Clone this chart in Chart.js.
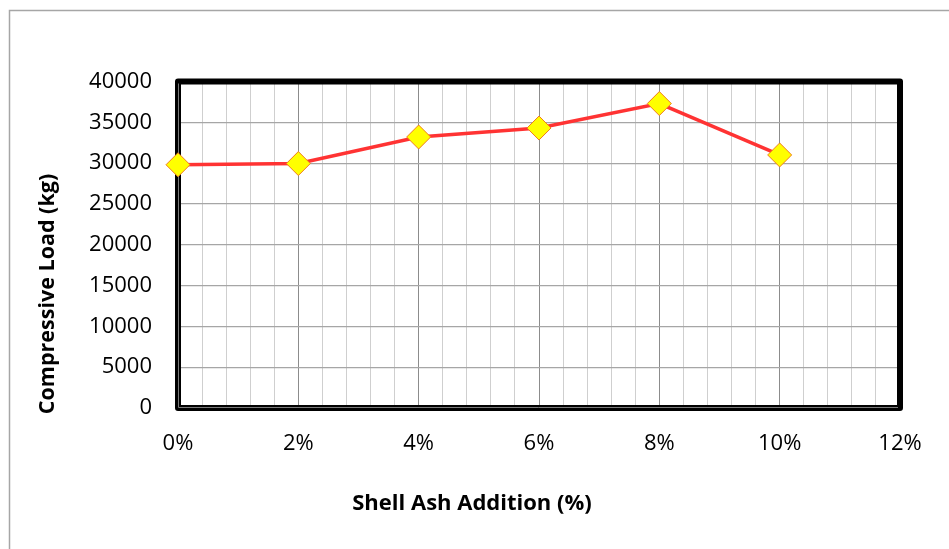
<!DOCTYPE html>
<html>
<head>
<meta charset="utf-8">
<script src="https://cdn.jsdelivr.net/npm/chart.js@4/dist/chart.umd.min.js"></script>
<style>
  html, body { margin: 0; padding: 0; background: #ffffff; }
  #wrap { width: 949px; height: 549px; position: relative; }
</style>
</head>
<body>
<div id="wrap"><canvas id="chart" width="949" height="549"></canvas></div>
<script>
// Shell ash addition (%) and the measured compressive load (kg)
const ashAddition = [0, 2, 4, 6, 8, 10];
const compressiveLoad = [29800, 29950, 33200, 34300, 37300, 31000];

// Axis settings
const xRange = [0, 12];
const xMajorStep = 2;
const xMinorStep = 0.4;
const yRange = [0, 40000];
const yStep = 5000;

const xTitle = 'Shell Ash Addition (%)';
const yTitle = 'Compressive Load (kg)';

const FONT = "'Open Sans', 'Noto Sans', sans-serif";

function isMajor(v) {
  const r = v / xMajorStep;
  return Math.abs(r - Math.round(r)) < 1e-6;
}

// Outer frame, heavy plot border and axis titles
const decorations = {
  id: 'decorations',
  beforeDraw(chart) {
    const ctx = chart.ctx;
    ctx.save();
    ctx.fillStyle = '#ffffff';
    ctx.fillRect(0, 0, chart.width, chart.height);
    ctx.strokeStyle = '#a6a6a6';
    ctx.lineWidth = 1.5;
    ctx.strokeRect(9.5, 10.5, chart.width + 20, chart.height + 20);
    ctx.restore();
  },
  beforeDatasetsDraw(chart) {
    const { ctx, chartArea: a } = chart;
    ctx.save();
    ctx.strokeStyle = '#000000';
    ctx.lineWidth = 6;
    ctx.lineJoin = 'round';
    ctx.strokeRect(a.left, a.top, a.right - a.left, a.bottom - a.top);
    // inner rule along the value and category axes
    ctx.strokeStyle = '#7a7a7a';
    ctx.lineWidth = 1;
    ctx.beginPath();
    ctx.moveTo(a.left + 0.5, a.top + 2);
    ctx.lineTo(a.left + 0.5, a.bottom - 0.5);
    ctx.lineTo(a.right - 2, a.bottom - 0.5);
    ctx.stroke();
    ctx.restore();
  },
  afterDraw(chart) {
    const ctx = chart.ctx;
    ctx.save();
    ctx.fillStyle = '#000000';
    ctx.textAlign = 'center';
    ctx.textBaseline = 'middle';
    ctx.font = 'bold 22px ' + FONT;
    ctx.fillText(xTitle, 472, 504);
    ctx.font = 'bold 21.5px ' + FONT;
    ctx.translate(48, 294);
    ctx.rotate(-Math.PI / 2);
    ctx.fillText(yTitle, 0, 0);
    ctx.restore();
  }
};

new Chart(document.getElementById('chart'), {
  type: 'line',
  data: {
    datasets: [{
      data: ashAddition.map((x, i) => ({ x: x, y: compressiveLoad[i] })),
      borderColor: '#ff3333',
      borderWidth: 3.5,
      pointStyle: 'rectRot',
      pointRadius: 12,
      pointHoverRadius: 12,
      pointBackgroundColor: '#ffff00',
      pointBorderColor: '#f07d1e',
      pointBorderWidth: 1,
      tension: 0,
      fill: false,
      clip: false
    }]
  },
  options: {
    responsive: false,
    animation: false,
    events: [],
    layout: { padding: { top: 81.5, right: 49, left: 0, bottom: 0 } },
    plugins: {
      legend: { display: false },
      tooltip: { enabled: false },
      title: { display: false }
    },
    scales: {
      x: {
        type: 'linear',
        min: xRange[0],
        max: xRange[1],
        afterFit(scale) { scale.height = 141; },
        border: { display: false },
        grid: {
          drawTicks: false,
          lineWidth: 1,
          color: (c) => (c.tick && isMajor(c.tick.value)) ? '#8c8c8c' : '#cfcfcf'
        },
        ticks: {
          stepSize: xMinorStep,
          maxTicksLimit: 100,
          autoSkip: false,
          maxRotation: 0,
          padding: 23,
          color: '#000000',
          font: { family: FONT, size: 22 },
          callback: (v) => isMajor(v) ? Math.round(v) + '%' : ''
        }
      },
      y: {
        min: yRange[0],
        max: yRange[1],
        afterFit(scale) { scale.width = 178; },
        border: { display: false },
        grid: { drawTicks: false, lineWidth: 1.2, color: '#a6a6a6' },
        ticks: {
          stepSize: yStep,
          padding: 26,
          color: '#000000',
          font: { family: FONT, size: 22 },
          callback: (v) => String(v)
        }
      }
    }
  },
  plugins: [decorations]
});
</script>
</body>
</html>
